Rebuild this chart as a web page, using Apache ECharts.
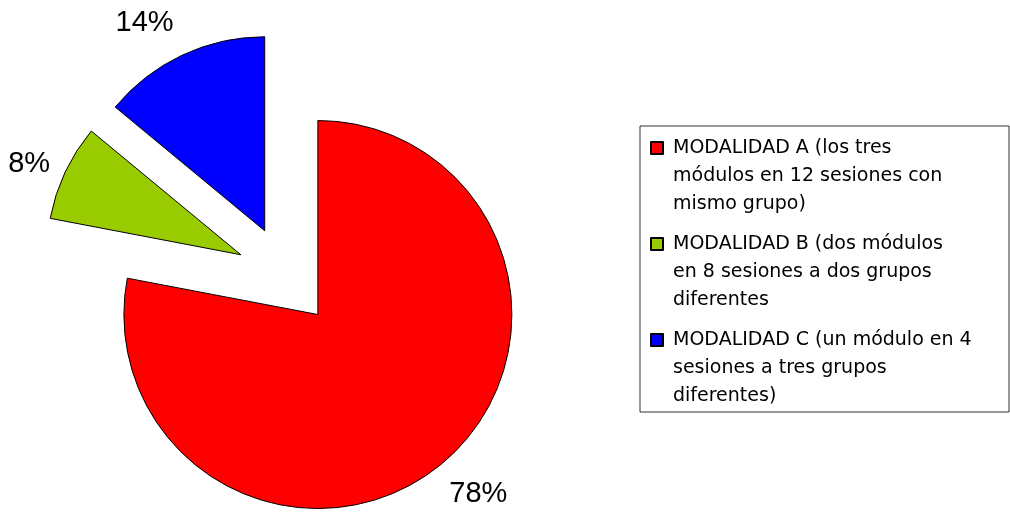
<!DOCTYPE html>
<html><head><meta charset="utf-8">
<script src="https://cdn.jsdelivr.net/npm/echarts@6/dist/echarts.min.js"></script>
<style>html,body{margin:0;padding:0;background:#fff}#c{width:1010px;height:512px}</style>
</head><body><div id="c"></div>
<script>
const categories = [
  'MODALIDAD A (los tres\nmódulos en 12 sesiones con\nmismo grupo)',
  'MODALIDAD B (dos módulos\nen 8 sesiones a dos grupos\ndiferentes',
  'MODALIDAD C (un módulo en 4\nsesiones a tres grupos\ndiferentes)'
];
const values = [78, 8, 14];
const colors = ['#FF0000', '#99CC00', '#0000FF'];
const labelAnchors = [
  {align: 'left', verticalAlign: 'top', dx: -5},
  {align: 'right', verticalAlign: 'middle', dx: 3},
  {align: 'right', verticalAlign: 'bottom'}
];

const chart = echarts.init(document.getElementById('c'));
chart.setOption({
  backgroundColor: '#fff',
  animation: false,
  legend: {
    orient: 'vertical',
    left: 640,
    top: 126,
    padding: [7, 10, 1, 10],
    itemWidth: 12,
    itemHeight: 84,
    itemGap: 10,
    icon: 'path://M0,0M0,8L12,8L12,20L0,20ZM0,84L0,84',
    selectedMode: false,
    borderColor: '#333',
    borderWidth: 1,
    textStyle: {
      fontFamily: 'DejaVu Sans',
      fontSize: 19,
      lineHeight: 28,
      color: '#000',
      padding: [0, 0, 0, 5],
      width: 326
    },
    data: categories
  },
  series: [{
    type: 'pie',
    center: [286, 276],
    radius: 194,
    startAngle: 90,
    clockwise: true,
    selectedMode: 'multiple',
    selectedOffset: 50,
    avoidLabelOverlap: false,
    itemStyle: {borderColor: '#000', borderWidth: 1},
    label: {
      show: true,
      position: 'outside',
      formatter: '{d}%',
      fontFamily: 'Liberation Sans',
      fontSize: 29,
      color: '#000',
      distanceToLabelLine: 0
    },
    labelLine: {show: false, length: 20, length2: 0},
    labelLayout: function (p) { return labelAnchors[p.dataIndex]; },
    emphasis: {disabled: true},
    select: {itemStyle: {borderColor: '#000', borderWidth: 1}},
    data: values.map(function (v, i) {
      return {name: categories[i], value: v, selected: true, itemStyle: {color: colors[i]}};
    })
  }]
});
</script>
</body></html>
